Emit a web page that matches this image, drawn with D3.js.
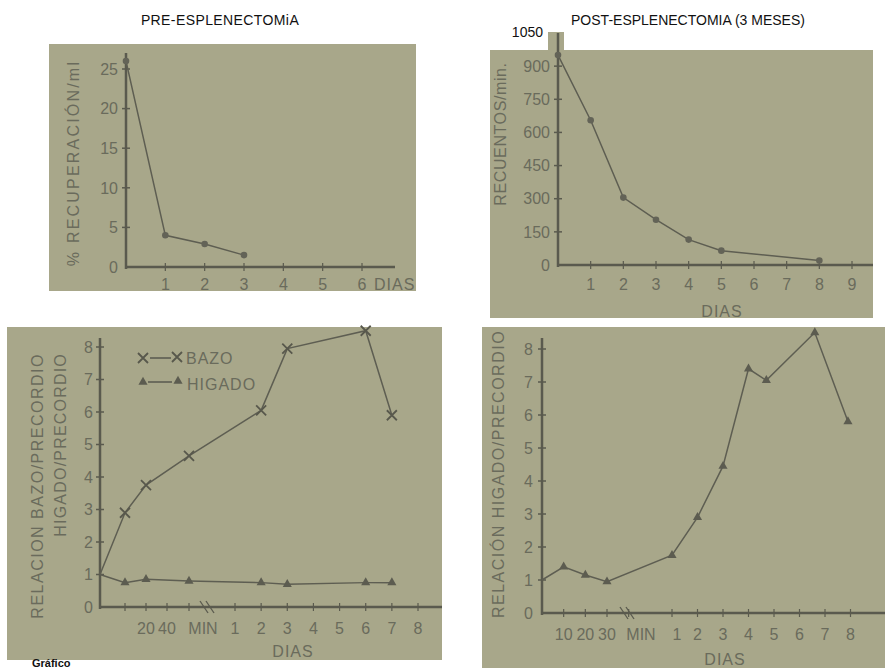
<!DOCTYPE html>
<html>
<head>
<meta charset="utf-8">
<script src="https://cdn.jsdelivr.net/npm/d3@7"></script>
<style>
  body { margin: 0; background: #fff; }
  svg { display: block; }
  text { font-family: "Liberation Sans", Arial, sans-serif; }
  .tick-label { fill: #6a6b5c; font-size: 16px; }
  .axis-title { fill: #6a6b5c; font-size: 16px; }
  .title { fill: #111; font-size: 14px; }
</style>
</head>
<body>
<script>
// Cuatro paneles escaneados: pre y post esplenectomia

// panel 1 - pre-esplenectomia, % recuperacion/ml
var preDias = [0, 1, 2, 3];
var preRecuperacion = [26, 4, 2.9, 1.5];
var preYTicks = [0, 5, 10, 15, 20, 25];
var preXTicks = [1, 2, 3, 4, 5, 6];

// panel 2 - post-esplenectomia, recuentos/min
var postDias = [0, 1, 2, 3, 4, 5, 8];
var postRecuentos = [950, 655, 305, 205, 115, 65, 20];
var postYTicks = [0, 150, 300, 450, 600, 750, 900];
var postXTicks = [1, 2, 3, 4, 5, 6, 7, 8, 9];

// panel 3 - relacion bazo / higado (pre)
// seg "min" = minutos, "dia" = dias
var relSeg = ["min", "min", "min", "min", "dia", "dia", "dia", "dia"];
var relT = [0, 10, 20, 60, 2, 3, 6, 7];
var bazo = [1.0, 2.9, 3.75, 4.65, 6.05, 7.95, 8.5, 5.9];
var higado = [1.0, 0.75, 0.85, 0.8, 0.75, 0.7, 0.75, 0.75];
var relYTicks = [0, 1, 2, 3, 4, 5, 6, 7, 8];
var relMinTicks = [10, 20, 40, 60];
var relMinLabels = ["20", "40"];
var relDiaTicks = [1, 2, 3, 4, 5, 6, 7, 8];

// panel 4 - relacion higado/precordio (post)
var higSeg = ["min", "min", "min", "min", "dia", "dia", "dia", "dia", "dia", "dia", "dia"];
var higT = [0, 10, 20, 30, 1, 2, 3, 4, 4.7, 6.6, 7.9];
var higValor = [1.0, 1.4, 1.15, 0.95, 1.75, 2.9, 4.45, 7.4, 7.05, 8.5, 5.8];
var higYTicks = [0, 1, 2, 3, 4, 5, 6, 7, 8];
var higMinTicks = [10, 20, 30, 40];
var higMinLabels = ["10", "20", "30"];
var higDiaTicks = [1, 2, 3, 4, 5, 6, 7, 8];

var W = 885, H = 668;
var paper = "#a8a78a", ink = "#5a5a4e";

var svg = d3.select("body").append("svg").attr("width", W).attr("height", H);

function panelBg(x0, y0, x1, y1) {
  svg.append("rect").attr("x", x0).attr("y", y0)
    .attr("width", x1 - x0).attr("height", y1 - y0).attr("fill", paper);
}

function axes(x0, y0, xEnd, yTop) {
  svg.append("line").attr("x1", x0).attr("x2", xEnd).attr("y1", y0).attr("y2", y0)
    .attr("stroke", ink).attr("stroke-width", 2.5);
  svg.append("line").attr("x1", x0).attr("x2", x0).attr("y1", y0 + 2).attr("y2", yTop)
    .attr("stroke", ink).attr("stroke-width", 2.5);
}

function yTicks(ticks, y, x0, labelX) {
  var g = svg.append("g");
  ticks.forEach(function(t) {
    if (t > 0) g.append("line").attr("x1", x0 - 4).attr("x2", x0 + 4)
      .attr("y1", y(t)).attr("y2", y(t)).attr("stroke", ink).attr("stroke-width", 1.5);
    g.append("text").attr("class", "tick-label").attr("x", labelX).attr("y", y(t))
      .attr("dy", "0.36em").attr("text-anchor", "end").text(t);
  });
}

function xTickMarks(xs, y0) {
  xs.forEach(function(xp) {
    svg.append("line").attr("x1", xp).attr("x2", xp).attr("y1", y0 - 4).attr("y2", y0 + 4)
      .attr("stroke", ink).attr("stroke-width", 1.2);
  });
}

function xLabel(xp, yb, txt) {
  svg.append("text").attr("class", "tick-label").attr("x", xp).attr("y", yb)
    .attr("text-anchor", "middle").text(txt);
}

function yTitle(txt, cx, cy, anchor, ls, size) {
  svg.append("text").attr("class", "axis-title")
    .attr("transform", "translate(" + cx + "," + cy + ") rotate(-90)")
    .attr("text-anchor", anchor || "middle")
    .attr("letter-spacing", ls).attr("font-size", size || 16).text(txt);
}

function breakMark(xp, y0) {
  [-3, 3].forEach(function(o) {
    svg.append("line").attr("x1", xp + o - 4).attr("y1", y0 - 6)
      .attr("x2", xp + o + 4).attr("y2", y0 + 6)
      .attr("stroke", ink).attr("stroke-width", 1.3);
  });
}

function tri(g, cx, cy) {
  g.append("path").attr("d", d3.symbol(d3.symbolTriangle, 36)())
    .attr("transform", "translate(" + cx + "," + cy + ")")
    .attr("fill", "#5c5c50");
}

function cross(g, cx, cy) {
  g.append("path").attr("d", "M-5,-5L5,5M-5,5L5,-5")
    .attr("transform", "translate(" + cx + "," + cy + ")")
    .attr("stroke", "#58584c").attr("stroke-width", 1.8).attr("fill", "none");
}

var line = d3.line();

// ---------- panel 1 ----------
panelBg(49, 44, 416, 291);
svg.append("text").attr("class", "title").attr("x", 220).attr("y", 25)
  .attr("text-anchor", "middle").attr("letter-spacing", 0.4).text("PRE-ESPLENECTOMiA");

var x1s = d3.scaleLinear().domain([0, 6]).range([126, 362]);
var y1s = d3.scaleLinear().domain([0, 25]).range([267, 69]);
axes(126, 267, 395, 53);
yTicks(preYTicks, y1s, 126, 118);
xTickMarks(preXTicks.map(x1s), 267);
preXTicks.forEach(function(d) { xLabel(x1s(d), 290, d); });
svg.append("text").attr("class", "tick-label").attr("x", 374).attr("y", 290)
  .attr("letter-spacing", 1).text("DIAS");
yTitle("% RECUPERACIÓN/ml", 79, 163, "middle", 2.2, 17);

var p1 = preDias.map(function(d, i) { return [x1s(d), y1s(preRecuperacion[i])]; });
svg.append("path").attr("d", line(p1)).attr("fill", "none")
  .attr("stroke", "#5e5e52").attr("stroke-width", 1.5);
svg.selectAll(".p1").data(p1).enter().append("circle")
  .attr("cx", function(d) { return d[0]; }).attr("cy", function(d) { return d[1]; })
  .attr("r", 3.3).attr("fill", "#636357");

// ---------- panel 2 ----------
panelBg(490, 50, 873, 318);
panelBg(548, 32, 564, 50);
svg.append("text").attr("class", "title").attr("x", 688).attr("y", 25)
  .attr("text-anchor", "middle").text("POST-ESPLENECTOMIA (3 MESES)");

var x2s = d3.scaleLinear().domain([0, 9]).range([558, 852]);
var y2s = d3.scaleLinear().domain([0, 1050]).range([265, 33]);
axes(558, 265, 873, 33);
yTicks(postYTicks, y2s, 558, 550);
svg.append("text").attr("class", "title").attr("x", 543).attr("y", y2s(1050) + 4)
  .attr("font-size", 13).attr("text-anchor", "end").text("1050");
xTickMarks(postXTicks.map(x2s), 265);
postXTicks.forEach(function(d) { xLabel(x2s(d), 290, d); });
svg.append("text").attr("class", "tick-label").attr("x", 722).attr("y", 317)
  .attr("text-anchor", "middle").attr("letter-spacing", 1).text("DIAS");
yTitle("RECUENTOS/min.", 506, 134, "middle", 0.6, 16);

var p2 = postDias.map(function(d, i) { return [x2s(d), y2s(postRecuentos[i])]; });
svg.append("path").attr("d", line(p2)).attr("fill", "none")
  .attr("stroke", "#5e5e52").attr("stroke-width", 1.5);
svg.selectAll(".p2").data(p2).enter().append("circle")
  .attr("cx", function(d) { return d[0]; }).attr("cy", function(d) { return d[1]; })
  .attr("r", 3.3).attr("fill", "#636357");

// ---------- panel 3 ----------
panelBg(7, 327, 442, 660);
var x3min = d3.scaleLinear().domain([0, 10, 20, 40, 60]).range([100, 125, 146, 167, 189]);
var x3dia = d3.scaleLinear().domain([1, 8]).range([235, 418]);
var y3s = d3.scaleLinear().domain([0, 8]).range([607, 347]);
function x3(seg, t) { return seg === "min" ? x3min(t) : x3dia(t); }

axes(100, 607, 442, 338);
yTicks(relYTicks, y3s, 100, 93);
xTickMarks(relMinTicks.map(x3min).concat(relDiaTicks.map(x3dia)), 607);
breakMark(207, 607);
relMinLabels.forEach(function(d) { xLabel(x3min(+d), 634, d); });
xLabel(203, 634, "MIN");
relDiaTicks.forEach(function(d) { xLabel(x3dia(d), 634, d); });
svg.append("text").attr("class", "tick-label").attr("x", 293).attr("y", 657)
  .attr("text-anchor", "middle").attr("letter-spacing", 1).text("DIAS");
yTitle("RELACION BAZO/PRECORDIO", 43, 353, "end", 1.5, 16);
yTitle("HIGADO/PRECORDIO", 66, 353, "end", 1.2, 16);

var g3 = svg.append("g");
var pb = relSeg.map(function(s, i) { return [x3(s, relT[i]), y3s(bazo[i])]; });
var ph = relSeg.map(function(s, i) { return [x3(s, relT[i]), y3s(higado[i])]; });
g3.append("path").attr("d", line(pb)).attr("fill", "none")
  .attr("stroke", "#5e5e52").attr("stroke-width", 1.5);
g3.append("path").attr("d", line(ph)).attr("fill", "none")
  .attr("stroke", "#5e5e52").attr("stroke-width", 1.5);
pb.slice(1).forEach(function(p) { cross(g3, p[0], p[1]); });
ph.slice(1).forEach(function(p) { tri(g3, p[0], p[1]); });

// leyenda
cross(g3, 143, 358);
g3.append("line").attr("x1", 150).attr("x2", 171).attr("y1", 358).attr("y2", 358)
  .attr("stroke", "#5e5e52").attr("stroke-width", 1.6);
cross(g3, 177, 357);
g3.append("text").attr("class", "tick-label").attr("x", 186).attr("y", 364)
  .attr("font-size", 17).attr("letter-spacing", 1).text("BAZO");
tri(g3, 143, 382);
g3.append("line").attr("x1", 148).attr("x2", 172).attr("y1", 382).attr("y2", 382)
  .attr("stroke", "#5e5e52").attr("stroke-width", 1.6);
tri(g3, 178, 381);
g3.append("text").attr("class", "tick-label").attr("x", 187).attr("y", 390)
  .attr("font-size", 17).attr("letter-spacing", 1).text("HIGADO");

// ---------- panel 4 ----------
panelBg(482, 327, 885, 668);
var x4min = d3.scaleLinear().domain([0, 30]).range([542, 607]);
var x4dia = d3.scaleLinear().domain([1, 8]).range([672, 850.5]);
var y4s = d3.scaleLinear().domain([0, 8]).range([613, 349]);
function x4(seg, t) { return seg === "min" ? x4min(t) : x4dia(t); }

axes(542, 613, 885, 338);
yTicks(higYTicks, y4s, 542, 533);
xTickMarks(higMinTicks.map(x4min).concat(higDiaTicks.map(x4dia)), 613);
breakMark(627, 613);
higMinLabels.forEach(function(d) { xLabel(x4min(+d), 640, d); });
xLabel(641, 640, "MIN");
higDiaTicks.forEach(function(d) { xLabel(x4dia(d) + (d === 1 ? 5 : 0), 640, d); });
svg.append("text").attr("class", "tick-label").attr("x", 725).attr("y", 665)
  .attr("text-anchor", "middle").attr("letter-spacing", 1).text("DIAS");
yTitle("RELACIÓN HIGADO/PRECORDIO", 504, 474, "middle", 1.5, 16);

var g4 = svg.append("g");
var p4 = higSeg.map(function(s, i) { return [x4(s, higT[i]), y4s(higValor[i])]; });
g4.append("path").attr("d", line(p4)).attr("fill", "none")
  .attr("stroke", "#5e5e52").attr("stroke-width", 1.5);
p4.slice(1).forEach(function(p) { tri(g4, p[0], p[1]); });

// pie de figura, al borde inferior
svg.append("text").attr("x", 32).attr("y", 667).attr("font-size", 11)
  .attr("font-weight", "bold").attr("fill", "#111").text("Gráfico");
</script>
</body>
</html>
